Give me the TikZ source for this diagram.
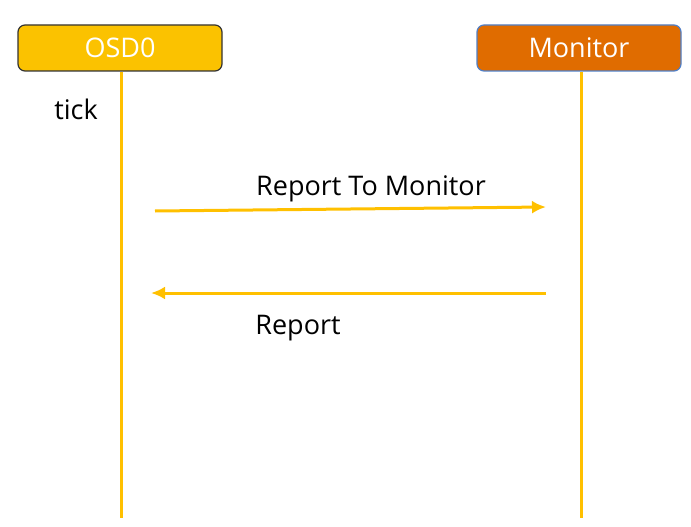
\documentclass[tikz,border=0pt]{standalone}
\usepackage{fontspec}
\setmainfont{Open Sans}
\usetikzlibrary{arrows.meta, positioning}
\definecolor{lifeyellow}{HTML}{FFC000}
\definecolor{osdfill}{HTML}{FBC200}
\definecolor{monfill}{HTML}{E06C00}
\definecolor{monline}{HTML}{4F7FC8}
\begin{document}
\begin{tikzpicture}
        [
          x=1pt, y=-1pt,
          actor/.style={rounded corners=7pt, line width=1.2pt, minimum width=204pt,
            minimum height=46pt, text=white, font=\fontsize{27}{32}\selectfont},
          life/.style={lifeyellow, line width=3pt},
          msg/.style={lifeyellow, line width=3pt, -{Latex[length=14pt,width=13pt]}},
          label/.style={font=\fontsize{27}{32}\selectfont}
        ]
        \useasboundingbox (0,0) rectangle (691,527);
        % actors
        \node [actor, draw=black!80, fill=osdfill] (osd) at (120,48) {OSD0};
        \node [actor, draw=monline, fill=monfill] (mon) at (579,48) {Monitor};
        % lifelines
        \coordinate (osdend) at (121,518);
        \coordinate (monend) at (581,518);
        \draw [life] (osd.south -| osdend) -- (osdend);
        \draw [life] (mon.south -| monend) -- (monend);
        % messages
        \coordinate (m1s) at (155,211);
        \coordinate (m1e) at (546,207);
        \coordinate (m2s) at (546,293);
        \coordinate (m2e) at (151,293);
        \draw [msg] (m1s) -- (m1e);
        \draw [msg] (m2s) -- (m2e);
        % labels
        \node [label] (tick) at (76,109) {tick};
        \node [label] (rtm) at (371,189) {Report To Monitor};
        \node [label] (rep) at (298,328) {Report};
      \end{tikzpicture}
\end{document}
